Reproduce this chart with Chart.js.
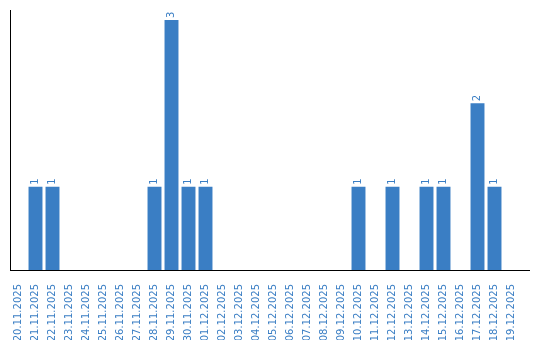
<!DOCTYPE html>
<html>
<head>
<meta charset="utf-8">
<script src="https://cdn.jsdelivr.net/npm/chart.js@4"></script>
<style>
  html, body { margin: 0; padding: 0; background: #ffffff; }
  #wrap { width: 540px; height: 340px; }
</style>
</head>
<body>
<div id="wrap"><canvas id="chart" width="540" height="340"></canvas></div>
<script>
// Days on the x axis
const days = [
    '20.11.2025', '21.11.2025', '22.11.2025', '23.11.2025', '24.11.2025',
    '25.11.2025', '26.11.2025', '27.11.2025', '28.11.2025', '29.11.2025',
    '30.11.2025', '01.12.2025', '02.12.2025', '03.12.2025', '04.12.2025',
    '05.12.2025', '06.12.2025', '07.12.2025', '08.12.2025', '09.12.2025',
    '10.12.2025', '11.12.2025', '12.12.2025', '13.12.2025', '14.12.2025',
    '15.12.2025', '16.12.2025', '17.12.2025', '18.12.2025', '19.12.2025'
];

// Count per day (0 = no bar)
const counts = [
    0, 1, 1, 0, 0,
    0, 0, 0, 1, 3,
    1, 1, 0, 0, 0,
    0, 0, 0, 0, 0,
    1, 0, 1, 0, 1,
    1, 0, 2, 1, 0
];

const blue = '#3a7ec4';

// Small numbers written above each bar, turned like the day labels
const valueLabels = {
    id: 'valueLabels',
    afterDatasetsDraw(chart) {
        const ctx = chart.ctx;
        const meta = chart.getDatasetMeta(0);
        ctx.save();
        ctx.fillStyle = blue;
        ctx.font = '10px "DejaVu Sans"';
        ctx.textAlign = 'left';
        ctx.textBaseline = 'middle';
        meta.data.forEach((bar, i) => {
            if (!counts[i]) return;
            ctx.save();
            ctx.translate(bar.x, bar.y - 2);
            ctx.rotate(-Math.PI / 2);
            ctx.fillText(String(counts[i]), 0, 0);
            ctx.restore();
        });
        ctx.restore();
    }
};

// The base line runs a little past the last day
const longBaseLine = {
    id: 'longBaseLine',
    afterDraw(chart) {
        const ctx = chart.ctx;
        const area = chart.chartArea;
        ctx.save();
        ctx.strokeStyle = '#000000';
        ctx.lineWidth = 1;
        ctx.beginPath();
        ctx.moveTo(area.right, area.bottom + 0.5);
        ctx.lineTo(chart.width - 10, area.bottom + 0.5);
        ctx.stroke();
        ctx.restore();
    }
};

new Chart(document.getElementById('chart'), {
    type: 'bar',
    data: {
        labels: days,
        datasets: [{
            data: counts,
            backgroundColor: blue,
            borderWidth: 0,
            categoryPercentage: 1,
            barPercentage: 0.82
        }]
    },
    options: {
        responsive: false,
        animation: false,
        layout: { padding: { top: 10, right: 20, left: 0, bottom: 0 } },
        plugins: {
            legend: { display: false },
            tooltip: { enabled: false }
        },
        scales: {
            x: {
                grid: { display: false },
                border: { display: true, color: '#000000', width: 1 },
                ticks: {
                    color: blue,
                    font: { family: 'DejaVu Sans', size: 10 },
                    minRotation: 90,
                    maxRotation: 90,
                    autoSkip: false,
                    padding: 6
                },
                afterFit(scale) { scale.height = 70; }
            },
            y: {
                min: 0,
                max: 3.12,
                grid: { display: false },
                border: { display: true, color: '#000000', width: 1 },
                ticks: { display: false },
                afterFit(scale) { scale.width = 10; }
            }
        }
    },
    plugins: [valueLabels, longBaseLine]
});
</script>
</body>
</html>
